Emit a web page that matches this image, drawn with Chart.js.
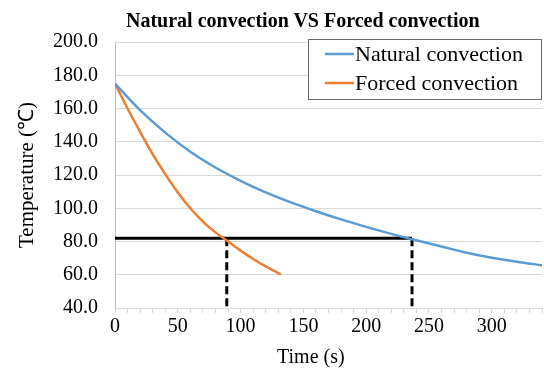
<!DOCTYPE html>
<html>
<head>
<meta charset="utf-8">
<script src="https://cdn.jsdelivr.net/npm/chart.js@4"></script>
<style>
  html, body { margin: 0; padding: 0; background: #fff; }
  #wrap { position: relative; width: 544px; height: 368px; }
  #title {
    position: absolute; left: 126px; top: 8px;
    font: bold 20px "Liberation Serif", serif; line-height: 24px;
    white-space: nowrap; color: #000;
  }
  #xTitle {
    position: absolute; left: 277px; top: 344px;
    font: 20px "Liberation Serif", serif; line-height: 24px;
    white-space: nowrap; color: #000;
  }
</style>
</head>
<body>
<div id="wrap">
  <canvas id="chart" width="544" height="368"></canvas>
  <div id="title">Natural convection VS Forced convection</div>
  <div id="xTitle">Time (s)</div>
</div>
<script>
// Natural convection
const naturalTime = [0, 20, 40, 60, 80, 100, 120, 140, 160, 180, 200, 220, 240, 260, 280, 300, 320, 340];
const naturalTemp = [175, 159, 145.5, 134, 124.5, 116.5, 109.5, 103.5, 98.2, 93.3, 88.8, 84.6, 80.7, 77, 73.2, 70.2, 67.8, 65.7];

// Forced convection
const forcedTime = [0, 10, 20, 30, 40, 50, 60, 70, 80, 90, 100, 110, 120, 130, 132];
const forcedTemp = [175, 160, 146, 132.5, 120.5, 109.5, 100, 92, 85.5, 80, 74.5, 69.5, 65, 61, 60.2];

// Reference lines
const refTemp = 82;
const forcedCross = 89;
const naturalCross = 236.5;

// Axes
const xMin = 0, xMax = 340, xMinorStep = 10, xLabelStep = 50;
const yMin = 40, yMax = 200, yStep = 20;

const labels = ["Natural convection", "Forced convection"];

function toPoints(xs, ys) {
  return xs.map((x, i) => ({ x: x, y: ys[i] }));
}

// Legend inside the plot (top right, boxed)
const legendBox = {
  id: "legendBox",
  afterDatasetsDraw(chart) {
    const ctx = chart.ctx;
    ctx.save();
    ctx.fillStyle = "#fff";
    ctx.fillRect(308, 39, 234, 61);
    ctx.strokeStyle = "#6b6b6b";
    ctx.lineWidth = 1;
    ctx.strokeRect(308.5, 39.5, 233, 60);
    ctx.font = '22px "Liberation Serif", serif';
    ctx.textBaseline = "middle";
    chart.data.datasets.slice(0, 2).forEach((ds, i) => {
      const y = 54 + i * 29;
      ctx.strokeStyle = ds.borderColor;
      ctx.lineWidth = 2.5;
      ctx.beginPath();
      ctx.moveTo(325, y);
      ctx.lineTo(354, y);
      ctx.stroke();
      ctx.fillStyle = "#000";
      ctx.fillText(ds.label, 355, y + 1);
    });
    ctx.restore();
  },
};

const ctx = document.getElementById("chart").getContext("2d");
const chart = new Chart(ctx, {
  type: "scatter",
  data: {
    datasets: [
      {
        label: labels[0],
        data: toPoints(naturalTime, naturalTemp),
        showLine: true,
        borderColor: "#5b9bd5",
        borderWidth: 2.5,
        pointRadius: 0,
        cubicInterpolationMode: "monotone",
      },
      {
        label: labels[1],
        data: toPoints(forcedTime, forcedTemp),
        showLine: true,
        borderColor: "#ed7d31",
        borderWidth: 2.5,
        pointRadius: 0,
        cubicInterpolationMode: "monotone",
      },
      {
        label: "ref",
        data: [{ x: 0, y: refTemp }, { x: naturalCross, y: refTemp }],
        showLine: true,
        borderColor: "#000",
        borderWidth: 3,
        pointRadius: 0,
      },
      {
        label: "forced cross",
        data: [{ x: forcedCross, y: refTemp }, { x: forcedCross, y: yMin }],
        showLine: true,
        borderColor: "#000",
        borderWidth: 3,
        borderDash: [8, 4],
        pointRadius: 0,
      },
      {
        label: "natural cross",
        data: [{ x: naturalCross, y: refTemp }, { x: naturalCross, y: yMin }],
        showLine: true,
        borderColor: "#000",
        borderWidth: 3,
        borderDash: [8, 4],
        pointRadius: 0,
      },
    ],
  },
  options: {
    responsive: false,
    animation: false,
    layout: { padding: { top: 42, right: 0, bottom: 27, left: 0 } },
    plugins: {
      legend: { display: false },
      title: { display: false },
      tooltip: { enabled: false },
    },
    scales: {
      x: {
        type: "linear",
        min: xMin,
        max: xMax,
        afterBuildTicks: (axis) => {
          const ticks = [];
          for (let v = xMin; v <= xMax; v += xMinorStep) ticks.push({ value: v });
          axis.ticks = ticks;
        },
        ticks: {
          autoSkip: false,
          maxRotation: 0,
          padding: 2,
          color: "#000",
          font: { family: "Liberation Serif", size: 20 },
          callback: (v) => (v % xLabelStep === 0 ? String(v) : ""),
        },
        grid: {
          drawOnChartArea: false,
          drawTicks: true,
          tickLength: 5,
          color: "#d9d9d9",
        },
        border: { color: "#d9d9d9" },
      },
      y: {
        min: yMin,
        max: yMax,
        afterFit: (axis) => {
          axis.width = 115;
        },
        ticks: {
          stepSize: yStep,
          padding: 17,
          color: "#000",
          font: { family: "Liberation Serif", size: 20 },
          callback: (v) => v.toFixed(1),
        },
        grid: { color: "#d9d9d9", drawTicks: false },
        border: { color: "#bfbfbf" },
        title: {
          display: true,
          text: "Temperature (℃)",
          color: "#000",
          font: { family: "Liberation Serif", size: 21 },
          padding: { top: 15, bottom: 0 },
        },
      },
    },
  },
  plugins: [legendBox],
});
</script>
</body>
</html>
